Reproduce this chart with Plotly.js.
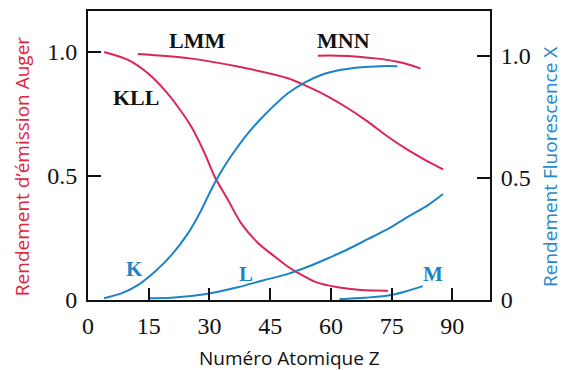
<!DOCTYPE html>
<html>
<head>
<meta charset="utf-8">
<script src="https://cdn.plot.ly/plotly-3.0.1.min.js"></script>
<style>html,body{margin:0;padding:0;background:#fff;}#chart{width:562px;height:370px;}</style>
</head>
<body>
<div id="chart"></div>
<script>
// Auger yields (left axis)
const kllZ = [4, 9.9, 14.8, 18.9, 22.2, 25.5, 28.8, 31.3, 34.6, 37.8, 42.0, 46.1, 49.4, 51.9, 56.0, 61.7, 67.4, 74.1];
const kllY = [1.0, 0.968, 0.914, 0.847, 0.779, 0.699, 0.592, 0.497, 0.403, 0.310, 0.230, 0.175, 0.134, 0.109, 0.074, 0.051, 0.040, 0.0375];
const lmmZ = [12.3, 24.7, 37.0, 49.4, 54.3, 59.3, 64.2, 69.1, 74.1, 79.0, 84.0, 87.7];
const lmmY = [0.992, 0.975, 0.941, 0.894, 0.860, 0.820, 0.773, 0.719, 0.658, 0.605, 0.558, 0.527];
const mnnZ = [56.8, 61.7, 66.7, 71.6, 76.5, 79.8, 82.1];
const mnnY = [0.985, 0.985, 0.981, 0.973, 0.960, 0.946, 0.933];
// Fluorescence yields (right axis)
const kZ = [3.95, 8.2, 12.3, 16.5, 20.6, 24.7, 28.0, 30.4, 32.9, 35.4, 39.5, 43.6, 49.4, 53.5, 57.6, 62.5, 67.5, 72.4, 76.4];
const kY = [0.007, 0.027, 0.061, 0.116, 0.184, 0.273, 0.369, 0.451, 0.526, 0.591, 0.683, 0.758, 0.847, 0.891, 0.922, 0.943, 0.954, 0.958, 0.958];
const lZ = [14.8, 20.6, 29.2, 37.0, 43.6, 49.4, 54.3, 59.3, 64.2, 69.1, 74.1, 79.0, 84.0, 87.7];
const lY = [0.007, 0.009, 0.025, 0.052, 0.082, 0.107, 0.136, 0.171, 0.208, 0.249, 0.291, 0.341, 0.389, 0.434];
const mZ = [62.1, 68.3, 74.1, 78.2, 82.7];
const mY = [0.003, 0.009, 0.018, 0.034, 0.057];

const xTicks = [0, 15, 30, 45, 60, 75, 90];
const yTickVals = [0, 0.5, 1.0];
const yTickText = ['0', '0.5', '1.0'];

const augerLabels = ['KLL', 'LMM', 'MNN'];
const fluoLabels = ['K', 'L', 'M'];
const xTitle = 'Numéro Atomique Z';
const yTitle = 'Rendement d’émission Auger';
const y2Title = 'Rendement Fluorescence X';

const RED = '#db2457';
const BLUE = '#1c84c6';

function line(x, y, color, axis, name) {
  return {x: x, y: y, type: 'scatter', mode: 'lines', name: name, yaxis: axis,
          line: {color: color, width: 2, shape: 'spline', smoothing: 0.8},
          hoverinfo: 'skip', showlegend: false};
}

const data = [
  line(kllZ, kllY, RED, 'y', 'KLL'),
  line(lmmZ, lmmY, RED, 'y', 'LMM'),
  line(mnnZ, mnnY, RED, 'y', 'MNN'),
  line(kZ, kY, BLUE, 'y2', 'K'),
  line(lZ, lY, BLUE, 'y2', 'L'),
  line(mZ, mY, BLUE, 'y2', 'M')
];

const serif = 'Liberation Serif, Times New Roman, serif';
const sans = 'Open Sans, Noto Sans, sans-serif';

function ann(text, x, y, color, size, yref) {
  return {text: '<b>' + text + '</b>', x: x, y: y, xref: 'x', yref: yref, showarrow: false,
          font: {family: serif, size: size, color: color}, xanchor: 'center', yanchor: 'middle'};
}
function titleAnn(text, x, y, color, angle) {
  return {text: text, x: x, y: y, xref: 'paper', yref: 'paper', showarrow: false, textangle: angle,
          font: {family: sans, size: 19, color: color}, xanchor: 'center', yanchor: 'middle'};
}

const tickFont = {family: serif, size: 24, color: '#111'};

const layout = {
  width: 562, height: 370,
  margin: {l: 88, r: 72, t: 11, b: 70},
  paper_bgcolor: '#fff', plot_bgcolor: '#fff',
  showlegend: false,
  xaxis: {
    range: [0, 99.3], tickvals: xTicks, ticks: 'inside', ticklen: 12, tickwidth: 2, tickcolor: '#111',
    showline: true, linewidth: 2, linecolor: '#111', mirror: true, showgrid: false, zeroline: false,
    tickfont: tickFont, ticklabelstandoff: 3
  },
  yaxis: {
    range: [0, 1.165], tickvals: yTickVals, ticktext: yTickText, ticks: 'inside', ticklen: 13, tickwidth: 2, tickcolor: '#111',
    showline: true, linewidth: 2, linecolor: '#111', showgrid: false, zeroline: false,
    tickfont: tickFont, ticklabelstandoff: 4
  },
  yaxis2: {
    range: [0, 1.184], overlaying: 'y', side: 'right', tickvals: yTickVals, ticktext: yTickText,
    ticks: 'inside', ticklen: 13, tickwidth: 2, tickcolor: '#111',
    showline: true, linewidth: 2, linecolor: '#111', showgrid: false, zeroline: false,
    tickfont: tickFont, ticklabelstandoff: 4
  },
  annotations: [
    ann(augerLabels[0], 11.85, 0.815, '#111', 22, 'y'),
    ann(augerLabels[1], 26.9, 1.048, '#111', 22, 'y'),
    ann(augerLabels[2], 63.2, 1.048, '#111', 22, 'y'),
    ann(fluoLabels[0], 11.4, 0.127, BLUE, 21, 'y2'),
    ann(fluoLabels[1], 39.0, 0.107, BLUE, 21, 'y2'),
    ann(fluoLabels[2], 85.3, 0.107, BLUE, 21, 'y2'),
    titleAnn(xTitle, 0.502, -0.2, '#111', 0),
    titleAnn(yTitle, -0.164, 0.46, '#e0243c', -90),
    titleAnn(y2Title, 1.149, 0.46, '#2489cb', -90)
  ]
};

Plotly.newPlot('chart', data, layout, {staticPlot: true, displayModeBar: false});
</script>
</body>
</html>
